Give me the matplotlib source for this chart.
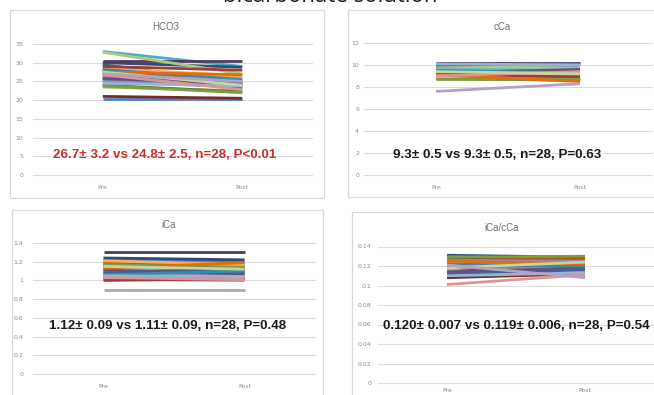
import matplotlib
matplotlib.use('Agg')
import matplotlib.pyplot as plt
from matplotlib.patches import Rectangle

W, H = 654, 395

categories = ['Pre', 'Post']

hco3_pre = [20.3, 25.5, 23.5, 26.0, 33.0, 28.0, 30.0, 21.0, 24.0, 30.5, 29.5, 27.8, 25.0, 26.5,
            32.8, 26.0, 27.0, 28.5, 27.2, 29.0, 23.8, 25.8, 28.2, 27.5, 24.5, 26.8, 27.5, 27.0]
hco3_post = [20.3, 24.0, 22.5, 23.8, 29.0, 26.0, 28.8, 20.5, 22.2, 30.5, 24.5, 25.0, 23.5, 24.8,
             27.0, 25.5, 24.0, 26.5, 23.0, 28.0, 22.0, 24.5, 25.5, 26.8, 23.8, 22.8, 24.0, 25.0]

cca_pre = [9.0, 9.4, 8.9, 9.8, 9.6, 9.2, 9.5, 8.8, 9.1, 10.2, 9.3, 8.8, 9.7, 9.0,
           9.9, 9.4, 9.6, 8.9, 10.0, 9.2, 8.7, 9.3, 9.5, 9.1, 10.1, 9.0, 9.4, 7.6]
cca_post = [8.8, 9.5, 9.1, 9.6, 9.9, 9.0, 9.3, 8.6, 9.4, 10.2, 9.0, 9.1, 9.8, 8.8,
            9.7, 9.2, 9.5, 9.2, 10.1, 8.9, 8.7, 9.6, 9.3, 8.5, 10.0, 9.4, 9.2, 8.3]

ica_pre = [1.22, 1.18, 1.15, 1.07, 1.10, 1.20, 1.24, 1.04, 1.13, 1.30, 1.16, 1.19, 1.02, 1.01,
           1.12, 1.09, 1.14, 1.21, 1.08, 1.00, 1.17, 1.11, 1.06, 1.13, 1.05, 1.03, 1.15, 0.90]
ica_post = [1.20, 1.14, 1.10, 1.09, 1.12, 1.15, 1.22, 1.03, 1.08, 1.30, 1.18, 1.12, 1.05, 1.00,
            1.16, 1.06, 1.11, 1.17, 1.13, 1.02, 1.14, 1.07, 1.10, 1.19, 1.04, 1.01, 1.12, 0.90]

ratio_pre = [0.128, 0.118, 0.125, 0.113, 0.122, 0.119, 0.131, 0.108, 0.124, 0.127, 0.121, 0.130, 0.115, 0.116,
             0.120, 0.126, 0.117, 0.123, 0.112, 0.119, 0.129, 0.114, 0.122, 0.125, 0.110, 0.101, 0.118, 0.121]
ratio_post = [0.126, 0.121, 0.122, 0.116, 0.124, 0.117, 0.129, 0.112, 0.120, 0.128, 0.118, 0.127, 0.114, 0.119,
              0.123, 0.125, 0.115, 0.121, 0.116, 0.110, 0.130, 0.118, 0.120, 0.122, 0.113, 0.111, 0.124, 0.108]

hco3_ticks = [0, 5, 10, 15, 20, 25, 30, 35]
cca_ticks = [0, 2, 4, 6, 8, 10, 12]
ica_ticks = [0, 0.2, 0.4, 0.6, 0.8, 1, 1.2, 1.4]
ratio_ticks = [0, 0.02, 0.04, 0.06, 0.08, 0.1, 0.12, 0.14]

# office 2010 series palette
colors = ['#4F81BD', '#C0504D', '#9BBB59', '#8064A2', '#4BACC6', '#F79646',
          '#2C4D75', '#772C2A', '#5F7530', '#4D3B62', '#276A7C', '#B65708',
          '#729ACA', '#CD7371', '#AFC97A', '#9983B5', '#6FBDD1', '#F9AB6B',
          '#3A679C', '#9F3B38', '#7E9C40', '#664F83', '#358EA6', '#E46C0A',
          '#95B3D7', '#D99694', '#C3D69B', '#B3A2C7']

fig = plt.figure(figsize=(W / 100, H / 100), dpi=100)
fig.patch.set_facecolor('white')


def px_rect(l, t, r, b):
    return [l / W, 1 - b / H, (r - l) / W, (b - t) / H]


def panel(box, area, pre, post, ticks, title, title_xy, note, note_xy, note_color, xpad=7, ypad=7):
    # slide frame round each chart
    bl, bt, br, bb = box
    fig.patches.append(Rectangle((bl / W, 1 - bb / H), (br - bl) / W, (bb - bt) / H,
                                 transform=fig.transFigure, fill=False,
                                 edgecolor='#d9d9d9', linewidth=0.9))
    ax = fig.add_axes(px_rect(*area))
    for i in range(len(pre)):
        ax.plot([0, 1], [pre[i], post[i]], color=colors[i], lw=2.0,
                solid_capstyle='butt', zorder=3)
    ax.set_xlim(-0.5, 1.5)
    ax.set_ylim(ticks[0], ticks[-1])
    ax.set_yticks(ticks)
    ax.set_yticklabels(['%g' % t for t in ticks])
    ax.set_xticks([0, 1])
    ax.set_xticklabels(categories)
    for s in ax.spines.values():
        s.set_visible(False)
    ax.tick_params(length=0, labelsize=4.5, labelcolor='#8c8c8c')
    ax.tick_params(axis='x', pad=xpad)
    ax.tick_params(axis='y', pad=ypad)
    ax.yaxis.grid(True, color='#dcdcdc', lw=0.8)
    for g in ax.get_ygridlines():
        g.set_clip_on(False)
    ax.set_axisbelow(True)
    ax.set_facecolor('none')
    fig.text(title_xy[0] / W, 1 - title_xy[1] / H, title, ha='center', va='center',
             fontsize=7, color='#6e6e6e', family='Liberation Sans')
    fig.text(note_xy[0] / W, 1 - note_xy[1] / H, note, ha='left', va='center',
             fontsize=9.6, color=note_color, family='Liberation Sans', weight='bold')
    return ax


panel((10, 10, 324, 198), (33, 44, 312, 175), hco3_pre, hco3_post, hco3_ticks,
      'HCO3', (166, 27), '26.7\u00b1 3.2 vs 24.8\u00b1 2.5, n=28, P<0.01', (53, 155), '#c8302c')
panel((348, 10, 660, 197), (364, 43, 652, 175), cca_pre, cca_post, cca_ticks,
      'cCa', (502, 27), '9.3\u00b1 0.5 vs 9.3\u00b1 0.5, n=28, P=0.63', (393, 155), '#1a1a1a',
      ypad=3.5)
panel((12, 210, 323, 400), (33, 243, 315, 374), ica_pre, ica_post, ica_ticks,
      'iCa', (169, 225), '1.12\u00b1 0.09 vs 1.11\u00b1 0.09, n=28, P=0.48', (49, 326), '#1a1a1a')
panel((352, 212, 660, 400), (378, 246.5, 654, 383), ratio_pre, ratio_post, ratio_ticks,
      'iCa/cCa', (502, 228), '0.120\u00b1 0.007 vs 0.119\u00b1 0.006, n=28, P=0.54', (383, 326), '#1a1a1a',
      xpad=3.5, ypad=4.5)

# slide heading, only its lower part is inside the crop
fig.text(330 / W, 1 - 1.5 / H, 'bicarbonate solution', ha='center', va='baseline',
         fontsize=16, color='#1e1e1e', family='Open Sans')

fig.savefig('out.png', dpi=100)
